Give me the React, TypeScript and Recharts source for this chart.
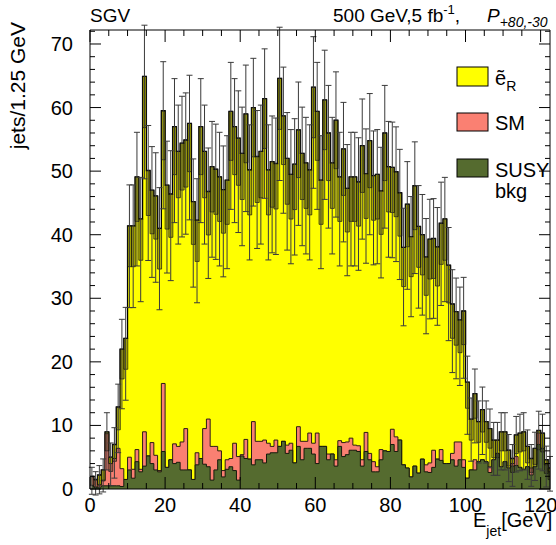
import React from 'react'
import { ComposedChart, Area, Bar, Scatter, ErrorBar, XAxis, YAxis } from 'recharts'

const FONT = '"Liberation Sans", Arial, Helvetica, sans-serif'

// jets per drawn bin (1 GeV wide on the axis, starting at 0)
const totalCounts = [
  2, 1.5, 2.2, 3, 9, 5, 7, 12.9, 22, 23.7,
  41.4, 41.4, 49.1, 42.5, 64.9, 50.1, 47, 46.1, 41, 59.5,
  47.8, 46.4, 57, 53.1, 54.4, 54.9, 57.5, 45.2, 42.3, 57,
  53.1, 46.8, 50.7, 50.3, 49.1, 47.1, 48.6, 59.4, 57, 55.2,
  52.8, 59, 50.2, 60, 52.3, 53.1, 61.4, 50.2, 51.5, 51.2,
  64.6, 58.7, 52, 49.5, 51.1, 56.5, 52.8, 51.3, 50.2, 63.2,
  59.4, 48.6, 61.2, 56, 51.3, 58, 49.1, 53.5, 47.3, 49.1,
  49.1, 48.3, 54, 49.6, 54.8, 49.3, 49.5, 46.9, 56, 50.7,
  50.6, 49.9, 46.6, 38, 44.8, 39.7, 47.7, 41.3, 40, 36.5,
  39.3, 39.4, 38.1, 41.8, 42.5, 35.2, 29.1, 27.9, 26.6, 28,
  16.8, 11, 15, 10.6, 12.5, 10.6, 9.5, 7.7, 7.7, 9,
  9, 6.1, 4.8, 8.5, 8.8, 9, 6.7, 4.8, 6.4, 9.2,
  8.8, 4.6, 3.3,
]

// top of the SM layer (SUSY bkg + SM)
const smTop = [
  1.9, 1.4, 0.6, 1.4, 8.7, 4, 4.8, 6.4, 3.2, 1.5,
  5, 3.1, 6.2, 3.1, 9, 5.2, 7.3, 5.3, 2.9, 16.6,
  3.4, 4.6, 7.1, 6.7, 7.4, 9.5, 3, 1.5, 5.7, 4.8,
  9.5, 11, 6.7, 6.7, 6, 2.9, 4.6, 4.8, 7.2, 5.1,
  5.4, 7.8, 4.7, 10.6, 7.5, 7.5, 7.7, 7.2, 6.7, 7.7,
  6.7, 7.5, 6.9, 7.2, 4.1, 9.8, 7.5, 7.5, 8.8, 7.2,
  8.8, 6.7, 6.7, 5.5, 5.5, 4.6, 7.6, 7.3, 7.4, 8,
  6.9, 6.8, 4.6, 8.9, 5.6, 4.3, 3.5, 6.2, 6, 5.9,
  9.4, 8.2, 7.7, 3.8, 3.3, 1.9, 3.6, 2.5, 4.7, 3.8,
  4.1, 6.1, 4.7, 6.2, 4, 4, 5.6, 7.4, 7.4, 4.6,
  1.7, 3, 4.6, 4.3, 4.6, 4.3, 3.5, 4.6, 5.6, 3.5,
  4.3, 3.3, 4, 5.1, 3.4, 3.1, 3.5, 3.3, 3.5, 8.8,
  6.4, 3.8, 2.7,
]

// top of the SUSY bkg layer
const susyTop = [
  0.5, 0.3, 0.3, 0.5, 0.5, 0.5, 0.5, 0.5, 0.4, 1.5,
  3, 1.7, 4.3, 2.7, 3.6, 5.2, 4, 3, 2.7, 5.9,
  3.4, 4.6, 4, 4.2, 3, 3, 3, 1.5, 3.8, 4.8,
  3.9, 3.5, 1.4, 3, 4.6, 1.9, 3.1, 3.5, 2.9, 1.4,
  5.2, 4.8, 4.7, 3.8, 4.6, 4.6, 4.1, 5.5, 5.7, 5.7,
  6.7, 7.5, 5.6, 6.1, 4.1, 6.7, 4.6, 6.4, 6.4, 5.5,
  4, 6.7, 6.7, 4.6, 5.5, 3.6, 6.7, 5.1, 5.4, 6.1,
  6.1, 5.9, 3.6, 5.9, 4.6, 2.7, 2.7, 4.6, 6, 5.9,
  7, 5.9, 7.7, 3.8, 3.3, 1.9, 3.6, 2.5, 4.7, 2.7,
  2.6, 3.4, 4.7, 4.5, 4, 4, 4.6, 3.6, 4.6, 3.4,
  1.7, 3, 3, 4.3, 4.6, 4.3, 2.6, 4.6, 5.6, 3.5,
  4.3, 3.3, 3.6, 3.7, 3.4, 3.1, 3.5, 2.2, 3.5, 7,
  6.4, 3.8, 2.7,
]

const xLabelTicks = [0, 20, 40, 60, 80, 100, 120]
const xTicks = [0, 5, 10, 15, 20, 25, 30, 35, 40, 45, 50, 55, 60, 65, 70, 75, 80, 85, 90, 95, 100, 105, 110, 115, 120]
const yLabelTicks = [0, 10, 20, 30, 40, 50, 60, 70]
const yTicks = [0, 2, 4, 6, 8, 10, 12, 14, 16, 18, 20, 22, 24, 26, 28, 30, 32, 34, 36, 38, 40, 42, 44, 46, 48, 50, 52, 54, 56, 58, 60, 62, 64, 66, 68, 70, 72]

// bin centres; error is the Poisson sqrt(N) of each bin
const data = totalCounts.map((total, i) => {
  const sigma = Math.sqrt(total)
  return {
    e: i + 0.5,
    total,
    sm: smTop[i],
    susy: susyTop[i],
    box: [total - sigma, total],
    err: [2 * sigma, sigma],
  }
})

function BottomTick({ x, y, payload }: any) {
  const major = xLabelTicks.includes(payload.value)
  return (
    <g>
      <line x1={x} y1={y} x2={x} y2={y - (major ? 12 : 6)} stroke="#000" />
      {major && (
        <text x={x} y={y + 23} textAnchor="middle" fontSize={20} fontFamily={FONT} fill="#000">
          {payload.value}
        </text>
      )}
    </g>
  )
}

function TopTick({ x, y, payload }: any) {
  const major = xLabelTicks.includes(payload.value)
  return <line x1={x} y1={y} x2={x} y2={y + (major ? 12 : 6)} stroke="#000" />
}

function LeftTick({ x, y, payload }: any) {
  const major = yLabelTicks.includes(payload.value)
  return (
    <g>
      <line x1={x} y1={y} x2={x + (major ? 11 : 5)} y2={y} stroke="#000" />
      {major && (
        <text x={x - 17} y={y + 7} textAnchor="end" fontSize={20} fontFamily={FONT} fill="#000">
          {payload.value}
        </text>
      )}
    </g>
  )
}

function RightTick({ x, y, payload }: any) {
  const major = yLabelTicks.includes(payload.value)
  return <line x1={x} y1={y} x2={x - (major ? 11 : 5)} y2={y} stroke="#000" />
}

export default function App() {
  return (
    <div style={{ position: 'absolute', left: 0, top: 0, width: 556, height: 545, overflow: 'hidden', background: '#fff' }}>
      <ComposedChart
        width={556}
        height={545}
        data={data}
        margin={{ top: 0, right: 0, bottom: 0, left: 0 }}
        barCategoryGap={0}
        barGap={0}
      >
        <XAxis
          dataKey="e"
          type="number"
          domain={[0, 122.5]}
          allowDataOverflow
          ticks={xTicks}
          interval={0}
          tickSize={0}
          tickMargin={0}
          tickLine={false}
          tick={<BottomTick />}
          axisLine={{ stroke: '#000' }}
          height={56}
        />
        <XAxis
          xAxisId="top"
          orientation="top"
          dataKey="e"
          type="number"
          domain={[0, 122.5]}
          allowDataOverflow
          ticks={xTicks}
          interval={0}
          tickSize={0}
          tickMargin={0}
          tickLine={false}
          tick={<TopTick />}
          axisLine={{ stroke: '#000' }}
          height={30}
        />
        <YAxis
          type="number"
          domain={[0, 72.2]}
          allowDataOverflow
          ticks={yTicks}
          interval={0}
          tickSize={0}
          tickMargin={0}
          tickLine={false}
          tick={<LeftTick />}
          axisLine={{ stroke: '#000' }}
          width={90}
        />
        <YAxis
          yAxisId="right"
          orientation="right"
          type="number"
          domain={[0, 72.2]}
          allowDataOverflow
          ticks={yTicks}
          interval={0}
          tickSize={0}
          tickMargin={0}
          tickLine={false}
          tick={<RightTick />}
          axisLine={{ stroke: '#000' }}
          width={6}
        />
        <Area type="step" dataKey="total" fill="#ffff00" fillOpacity={1} stroke="#000" strokeWidth={1.3} dot={false} activeDot={false} isAnimationActive={false} />
        <Area type="step" dataKey="sm" fill="#fa8072" fillOpacity={1} stroke="#2b1c16" strokeWidth={1} dot={false} activeDot={false} isAnimationActive={false} />
        <Area type="step" dataKey="susy" fill="#556b2f" fillOpacity={1} stroke="#161a0e" strokeWidth={1} dot={false} activeDot={false} isAnimationActive={false} />
        <Bar dataKey="box" fill="#333300" fillOpacity={0.36} stroke="#111" strokeWidth={0.7} isAnimationActive={false} />
        <Scatter dataKey="total" shape={() => <g />} isAnimationActive={false}>
          <ErrorBar dataKey="err" direction="y" width={3} stroke="#3a3a3a" strokeWidth={1} isAnimationActive={false} />
        </Scatter>
      </ComposedChart>

      <svg
        width={556}
        height={545}
        style={{ position: 'absolute', left: 0, top: 0, pointerEvents: 'none' }}
        fontFamily={FONT}
        fill="#000"
      >
        <text x={90} y={22} fontSize={19}>SGV</text>
        <text x={333} y={22} fontSize={19}>
          500 GeV,5 fb<tspan fontSize={13} dy={-8}>-1</tspan>
          <tspan dy={8}>,</tspan>
        </text>
        <text x={487} y={22} fontSize={19} fontStyle="italic">
          P<tspan fontSize={14} dy={5}>+80,-30</tspan>
        </text>
        <text transform="translate(25, 22) rotate(-90)" textAnchor="end" fontSize={21}>
          jets/1.25 GeV
        </text>
        <text x={473} y={527} fontSize={20}>
          E<tspan fontSize={14} dy={9}>jet</tspan>
          <tspan dy={-9}>[GeV]</tspan>
        </text>

        <rect x={457} y={67} width={31} height={19} fill="#ffff00" stroke="#000" />
        <text x={495} y={85} fontSize={20}>
          ẽ<tspan fontSize={14} dy={6}>R</tspan>
        </text>
        <rect x={457} y={113} width={31} height={18} fill="#fa8072" stroke="#000" />
        <text x={495} y={130} fontSize={20}>SM</text>
        <rect x={457} y={159} width={31} height={18} fill="#556b2f" stroke="#000" />
        <text x={495} y={177} fontSize={20}>SUSY</text>
        <text x={495} y={198} fontSize={20}>bkg</text>
      </svg>
    </div>
  )
}
